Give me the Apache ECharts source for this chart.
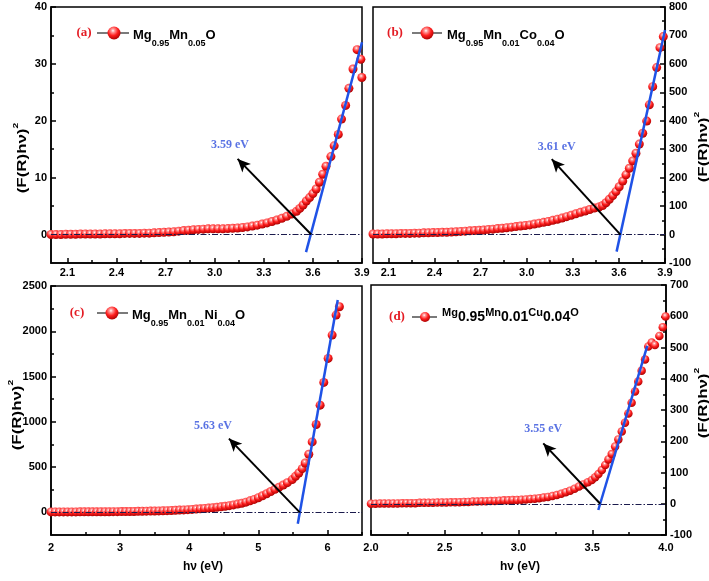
<!DOCTYPE html>
<html><head><meta charset="utf-8">
<script src="https://cdn.jsdelivr.net/npm/echarts@6.0.0/dist/echarts.min.js"></script>
<style>html,body{margin:0;padding:0;background:#fff}#c{width:709px;height:581px}</style>
</head><body><div id="c"></div>
<script>
// ---------- Panel (a) Mg0.95Mn0.05O ----------
const aX = [2.00,2.03,2.06,2.09,2.12,2.15,2.18,2.21,2.24,2.27,2.30,2.33,2.36,2.39,2.42,2.45,2.48,2.51,2.54,2.57,2.60,2.63,2.66,2.69,2.72,2.75,2.78,2.81,2.84,2.87,2.90,2.93,2.96,2.99,3.02,3.05,3.08,3.11,3.14,3.17,3.20,3.23,3.26,3.29,3.32,3.35,3.38,3.41,3.44,3.47,3.50,3.52,3.54,3.56,3.58,3.60,3.62,3.64,3.66,3.68,3.71,3.73,3.755,3.775,3.80,3.82,3.845,3.87,3.893,3.899];
const aY = [0.0,0.0,0.0,0.05,0.05,0.05,0.1,0.1,0.1,0.1,0.1,0.15,0.15,0.15,0.15,0.2,0.2,0.2,0.2,0.25,0.25,0.3,0.35,0.4,0.45,0.5,0.6,0.7,0.75,0.85,0.9,0.95,1.0,1.0,1.0,1.0,1.05,1.1,1.15,1.25,1.35,1.5,1.65,1.85,2.05,2.3,2.55,2.85,3.2,3.6,4.1,4.6,5.2,5.9,6.5,7.2,8.0,9.2,10.6,12.0,13.7,15.6,17.6,20.3,22.7,25.7,29.1,32.5,30.8,27.6];
const aFitX = [3.558, 3.90];
const aFitY = [-3.1, 33.8];
const aArrowX = [3.59, 3.14];
const aArrowY = [0, 13.3];
const aGapPos = [3.093, 15.7];
const aGapText = '3.59 eV';
const aXTicks = [2.1,2.4,2.7,3.0,3.3,3.6,3.9];
const aXMinor = [2.25,2.55,2.85,3.15,3.45,3.75];
const aYTicks = [0,10,20,30,40];
const aYMinor = [5,15,25,35];

// ---------- Panel (b) Mg0.95Mn0.01Co0.04O ----------
const bX = [2.00,2.03,2.06,2.09,2.12,2.15,2.18,2.21,2.24,2.27,2.30,2.33,2.36,2.39,2.42,2.45,2.48,2.51,2.54,2.57,2.60,2.63,2.66,2.69,2.72,2.75,2.78,2.81,2.84,2.87,2.90,2.93,2.96,2.99,3.02,3.05,3.08,3.11,3.14,3.17,3.20,3.23,3.26,3.29,3.32,3.35,3.38,3.41,3.44,3.47,3.494,3.516,3.538,3.56,3.581,3.602,3.625,3.646,3.668,3.69,3.711,3.733,3.755,3.781,3.798,3.82,3.846,3.867,3.889];
const bY = [2,2,2,3,3,3,4,4,4,5,5,6,6,7,7,8,8,9,10,11,12,13,14,15,16,18,19,21,22,24,26,28,30,32,34,37,40,43,46,50,54,58,63,68,73,78,83,88,93,97,102,112,124,137,151,168,188,210,233,259,286,318,356,399,456,520,587,657,696];
const bFitX = [3.585, 3.90];
const bFitY = [-60, 719];
const bArrowX = [3.61, 3.163];
const bArrowY = [0, 265];
const bGapPos = [3.195, 309];
const bGapText = '3.61 eV';
const bXTicks = [2.1,2.4,2.7,3.0,3.3,3.6,3.9];
const bXMinor = [2.25,2.55,2.85,3.15,3.45,3.75];
const bYTicks = [-100,0,100,200,300,400,500,600,700,800];
const bYMinor = [-50,50,150,250,350,450,550,650,750];

// ---------- Panel (c) Mg0.95Mn0.01Ni0.04O ----------
const cX = [2.00,2.06,2.12,2.18,2.24,2.30,2.36,2.42,2.48,2.54,2.60,2.66,2.72,2.78,2.84,2.90,2.96,3.02,3.08,3.14,3.20,3.26,3.32,3.38,3.44,3.50,3.56,3.62,3.68,3.74,3.80,3.86,3.92,3.98,4.04,4.10,4.16,4.22,4.28,4.34,4.40,4.46,4.52,4.58,4.64,4.70,4.76,4.82,4.88,4.94,5.00,5.06,5.12,5.18,5.24,5.30,5.36,5.42,5.49,5.538,5.586,5.635,5.678,5.73,5.779,5.837,5.894,5.947,6.01,6.068,6.125,6.173];
const cY = [5,5,5,5,5,5,5,6,6,6,6,6,7,7,7,8,8,9,9,10,10,11,12,13,14,15,16,18,19,21,23,25,27,30,33,36,39,43,47,51,56,61,67,74,82,91,101,113,127,143,162,183,206,230,254,278,302,328,362,398,435,483,545,642,778,970,1184,1435,1700,1958,2179,2271];
const cFitX = [5.571, 6.149];
const cFitY = [-125, 2345];
const cArrowX = [5.60, 4.575];
const cArrowY = [0, 815];
const cGapPos = [4.344, 951];
const cGapText = '5.63 eV';
const cXTicks = [2,3,4,5,6];
const cXMinor = [2.5,3.5,4.5,5.5,6.5];
const cYTicks = [0,500,1000,1500,2000,2500];
const cYMinor = [250,750,1250,1750,2250];

// ---------- Panel (d) Mg0.95Mn0.01Cu0.04O ----------
const dX = [2.00,2.03,2.06,2.09,2.12,2.15,2.18,2.21,2.24,2.27,2.30,2.33,2.36,2.39,2.42,2.45,2.48,2.51,2.54,2.57,2.60,2.63,2.66,2.69,2.72,2.75,2.78,2.81,2.84,2.87,2.90,2.93,2.96,2.99,3.02,3.05,3.08,3.11,3.14,3.17,3.20,3.23,3.26,3.29,3.32,3.35,3.38,3.41,3.44,3.47,3.497,3.52,3.542,3.565,3.588,3.61,3.632,3.655,3.677,3.70,3.722,3.745,3.767,3.79,3.812,3.835,3.858,3.88,3.903,3.925,3.955,3.978,3.997];
const dY = [0,0,1,1,1,1,1,2,2,2,2,3,3,3,3,4,4,4,5,5,5,6,6,7,7,8,8,9,9,10,11,11,12,12,13,14,15,16,18,20,22,25,28,32,37,42,48,55,62,69,76,85,95,108,124,142,159,183,206,231,259,289,323,359,391,426,462,503,516,508,537,565,599];
const dFitX = [3.541, 3.873];
const dFitY = [-20, 505];
const dArrowX = [3.554, 3.168];
const dArrowY = [0, 193];
const dGapPos = [3.168, 238];
const dGapText = '3.55 eV';
const dXTicks = [2.0,2.5,3.0,3.5,4.0];
const dXMinor = [2.25,2.75,3.25,3.75];
const dYTicks = [-100,0,100,200,300,400,500,600,700];
const dYMinor = [-50,50,150,250,350,450,550,650];

const SANS = '"Liberation Sans", Arial, sans-serif';
const SERIF = '"Liberation Serif", "Times New Roman", serif';

function zip(xs, ys) { return xs.map((x, i) => [x, ys[i]]); }
function sphere() {
  return new echarts.graphic.RadialGradient(0.42, 0.32, 0.7, [
    {offset: 0, color: '#ffffff'},
    {offset: 0.18, color: '#ff9c9c'},
    {offset: 0.55, color: '#ff1e1e'},
    {offset: 1, color: '#a60000'}
  ]);
}

const panels = [
  {grid:{left:51,top:7,width:311,height:256}, xr:[2.0,3.9], yr:[-5,40], xMaj:aXTicks, xMin:aXMinor, yMaj:aYTicks, yMin:aYMinor, xDec:1, xm:4, yPos:'left', X:aX, Y:aY, fx:aFitX, fy:aFitY, ax:aArrowX, ay:aArrowY, gp:aGapPos, gt:aGapText, ss:9},
  {grid:{left:373,top:7,width:292,height:256}, xr:[2.0,3.9], yr:[-100,800], xMaj:bXTicks, xMin:bXMinor, yMaj:bYTicks, yMin:bYMinor, xDec:1, xm:4, yPos:'right', X:bX, Y:bY, fx:bFitX, fy:bFitY, ax:bArrowX, ay:bArrowY, gp:bGapPos, gt:bGapText, ss:9},
  {grid:{left:51,top:286,width:311,height:249}, xr:[2,6.5], yr:[-250,2500], xMaj:cXTicks, xMin:cXMinor, yMaj:cYTicks, yMin:cYMinor, xDec:0, xm:7, yPos:'left', X:cX, Y:cY, fx:cFitX, fy:cFitY, ax:cArrowX, ay:cArrowY, gp:cGapPos, gt:cGapText, ss:9},
  {grid:{left:371,top:285,width:295,height:250}, xr:[2.0,4.0], yr:[-100,700], xMaj:dXTicks, xMin:dXMinor, yMaj:dYTicks, yMin:dYMinor, xDec:1, xm:7, yPos:'right', X:dX, Y:dY, fx:dFitX, fy:dFitY, ax:dArrowX, ay:dArrowY, gp:dGapPos, gt:dGapText, ss:8.5}
];

const grids = [], xAxes = [], yAxes = [], series = [];
const lineBlack = {color:'#000', width:1.5};
const labelStyle = {color:'#000', fontSize:11, fontWeight:'bold', fontFamily:SANS};

panels.forEach((p, i) => {
  grids.push(Object.assign({show:true, borderColor:'#000', borderWidth:1.5, backgroundColor:'transparent'}, p.grid));
  xAxes.push({gridIndex:i, type:'value', position:'bottom', min:p.xr[0], max:p.xr[1],
    axisLine:{show:true, onZero:false, lineStyle:lineBlack},
    axisTick:{show:true, inside:true, length:5, customValues:p.xMaj, lineStyle:lineBlack},
    axisLabel:Object.assign({show:true, margin:p.xm, customValues:p.xMaj,
      formatter:(v) => p.xDec ? Number(v).toFixed(p.xDec) : String(Math.round(v))}, labelStyle),
    splitLine:{show:false}});
  xAxes.push({gridIndex:i, type:'value', position:'bottom', min:p.xr[0], max:p.xr[1],
    axisLine:{show:false, onZero:false},
    axisTick:{show:true, inside:true, length:3, customValues:p.xMin, lineStyle:lineBlack},
    axisLabel:{show:false}, splitLine:{show:false}});
  yAxes.push({gridIndex:i, type:'value', position:p.yPos, min:p.yr[0], max:p.yr[1],
    axisLine:{show:true, onZero:false, lineStyle:lineBlack},
    axisTick:{show:true, inside:true, length:5, customValues:p.yMaj, lineStyle:lineBlack},
    axisLabel:Object.assign({show:true, margin:4, customValues:p.yMaj,
      formatter:(v) => String(Math.round(v))}, labelStyle),
    splitLine:{show:false}});
  yAxes.push({gridIndex:i, type:'value', position:p.yPos, min:p.yr[0], max:p.yr[1],
    axisLine:{show:false, onZero:false},
    axisTick:{show:true, inside:true, length:3, customValues:p.yMin, lineStyle:lineBlack},
    axisLabel:{show:false}, splitLine:{show:false}});

  const xi = 2 * i, yi = 2 * i;
  series.push({type:'scatter', xAxisIndex:xi, yAxisIndex:yi, data:zip(p.X, p.Y), symbol:'circle',
    symbolSize:p.ss, itemStyle:{color:sphere(), opacity:1}, clip:true, z:2, silent:true,
    markLine:{silent:true, symbol:['none','none'], label:{show:false}, z:5,
      lineStyle:{color:'#1b1b4d', width:1, type:[6,2,1.5,2]}, data:[{yAxis:0}]}});
  series.push({type:'line', xAxisIndex:xi, yAxisIndex:yi, data:zip(p.fx, p.fy), showSymbol:false,
    symbol:'none', lineStyle:{color:'#1f52e6', width:2.5}, z:4, silent:true,
    markLine:{silent:true, symbol:['none','arrow'], symbolSize:[9,13], label:{show:false}, z:6,
      lineStyle:{color:'#000', width:2, type:'solid'},
      data:[[{coord:[p.ax[0], p.ay[0]]}, {coord:[p.ax[1], p.ay[1]]}]]}});
  series.push({type:'scatter', xAxisIndex:xi, yAxisIndex:yi, data:[p.gp], symbolSize:1,
    itemStyle:{color:'rgba(0,0,0,0)'}, z:7, silent:true,
    label:{show:true, position:'inside', formatter:p.gt, color:'#2f4fdc', fontFamily:SERIF,
      fontWeight:'bold', fontSize:12}});
});

// ---------- legends & titles (graphic) ----------
function legendGroup(tag, tx, ty, lx0, lx1, sx, sr, textX, textDy, rich, text) {
  return {type:'group', children:[
    {type:'text', x:tx, y:ty, style:{text:tag, fill:'#e41c24', font:'bold 13px ' + SERIF, align:'center', verticalAlign:'middle'}},
    {type:'line', shape:{x1:lx0, y1:ty, x2:lx1, y2:ty}, style:{stroke:'#222', lineWidth:1.2}},
    {type:'circle', shape:{cx:sx, cy:ty, r:sr}, style:{fill:new echarts.graphic.RadialGradient(0.42,0.32,0.7,[
      {offset:0,color:'#ffffff'},{offset:0.18,color:'#ff9c9c'},{offset:0.55,color:'#ff1e1e'},{offset:1,color:'#a60000'}])}},
    {type:'text', x:textX, y:ty + textDy, style:{text:text, rich:rich, verticalAlign:'middle', align:'left', fill:'#000'}}
  ]};
}
const richSub = {
  m:{fontSize:13, fontWeight:'bold', fontFamily:SANS, fill:'#000', lineHeight:27, verticalAlign:'middle'},
  s:{fontSize:9, fontWeight:'bold', fontFamily:SANS, fill:'#000', lineHeight:27, verticalAlign:'bottom'}
};
const richD = {
  e:{fontSize:11, fontWeight:'bold', fontFamily:SANS, fill:'#000', lineHeight:17, verticalAlign:'top'},
  n:{fontSize:14, fontWeight:'bold', fontFamily:SANS, fill:'#000', lineHeight:17, verticalAlign:'bottom'}
};
const yTitleRich = {
  m:{fontSize:13, fontWeight:'bold', fontFamily:SANS, fill:'#000', lineHeight:17, verticalAlign:'bottom'},
  s:{fontSize:8, fontWeight:'bold', fontFamily:SANS, fill:'#000', lineHeight:17, verticalAlign:'top'}
};
function yTitle(x, y) {
  return {type:'text', x:x, y:y, rotation:Math.PI/2, scaleX:1.3,
    style:{text:'{m|(F(R)hν)}{s|2}', rich:yTitleRich, align:'center', verticalAlign:'middle'}};
}
function xTitle(x, y) {
  return {type:'text', x:x, y:y, style:{text:'hν (eV)', font:'bold 12px ' + SANS, fill:'#000', align:'center', verticalAlign:'middle'}};
}

const graphics = [
  legendGroup('(a)', 84, 33, 97, 129, 114, 6.5, 133, 2, richSub, '{m|Mg}{s|0.95}{m|Mn}{s|0.05}{m|O}'),
  legendGroup('(b)', 395, 33, 412, 442, 427, 6.5, 447, 2, richSub, '{m|Mg}{s|0.95}{m|Mn}{s|0.01}{m|Co}{s|0.04}{m|O}'),
  legendGroup('(c)', 77, 313, 97, 128, 112, 6.5, 132, 2, richSub, '{m|Mg}{s|0.95}{m|Mn}{s|0.01}{m|Ni}{s|0.04}{m|O}'),
  legendGroup('(d)', 397, 317, 412, 437, 425, 5, 442, -1, richD, '{e|Mg}{n|0.95}{e|Mn}{n|0.01}{e|Cu}{n|0.04}{e|O}'),
  yTitle(20, 158), yTitle(15, 415), yTitle(701, 147), yTitle(701, 403),
  xTitle(203, 567), xTitle(520, 567)
];

const chart = echarts.init(document.getElementById('c'), null, {renderer:'canvas'});
chart.setOption({
  animation:false,
  backgroundColor:'#fff',
  grid:grids, xAxis:xAxes, yAxis:yAxes, series:series, graphic:graphics
});
</script></body></html>
